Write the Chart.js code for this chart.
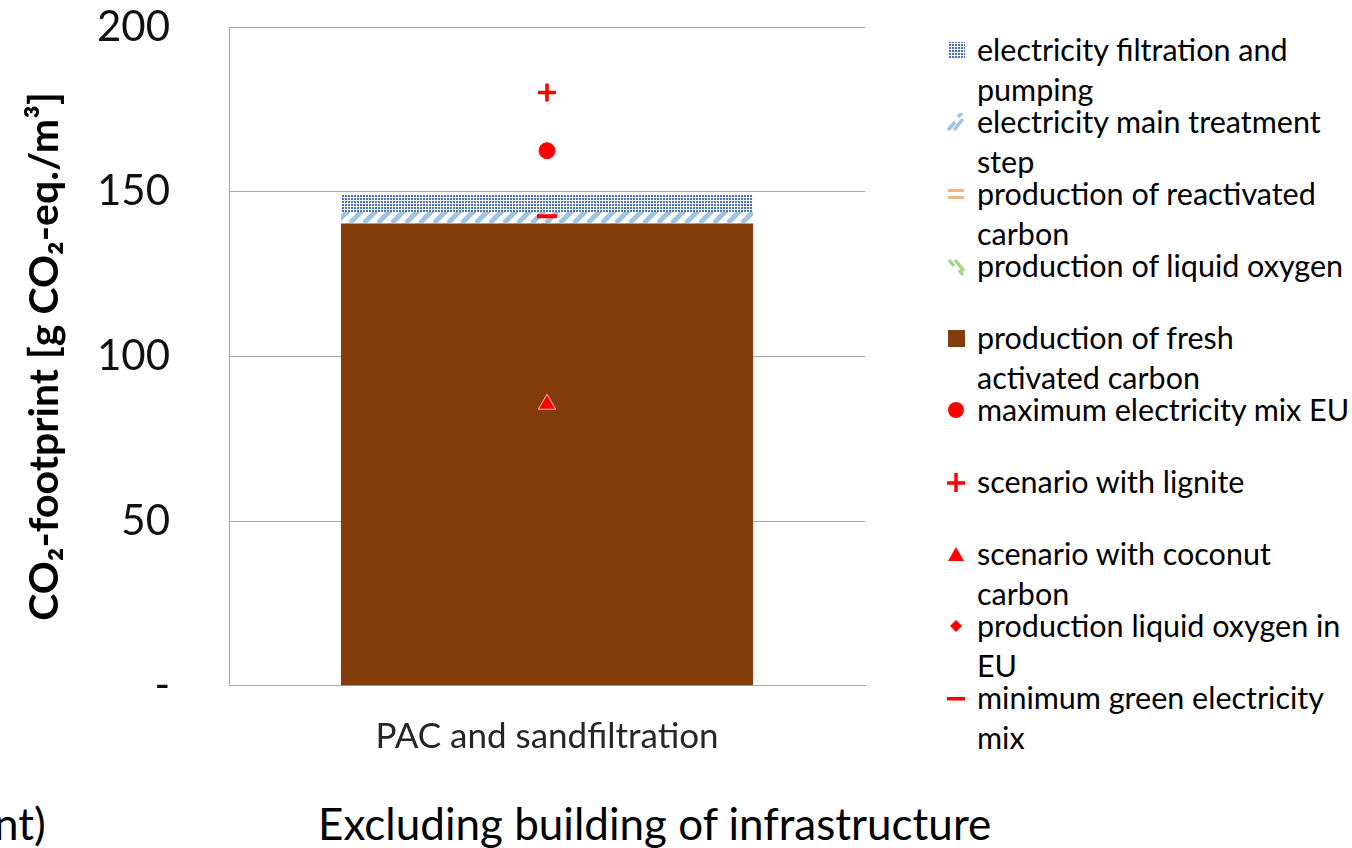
<!DOCTYPE html>
<html>
<head>
<meta charset="utf-8">
<script src="https://cdn.jsdelivr.net/npm/chart.js@4.4.0/dist/chart.umd.min.js"></script>
<style>
  body { margin:0; width:1352px; height:848px; background:#fff; overflow:hidden; position:relative; font-family:Lato, "Open Sans", sans-serif; }
  #wrap { position:absolute; left:0; top:-57px; width:880px; height:827px; }
  #legend { position:absolute; left:946px; top:30px; width:406px; }
  .item { position:absolute; left:0; width:406px; }
  .item canvas { position:absolute; left:0; top:11px; }
  .item span { position:absolute; left:31px; top:-1px; font-size:30.5px; line-height:40px; color:#000; white-space:nowrap; }
  #foot { position:absolute; left:318px; top:797px; font-size:44px; color:#000; white-space:nowrap; }
  #cut { position:absolute; left:-6px; top:797px; font-size:44px; color:#000; }
</style>
</head>
<body>
<div id="wrap"><canvas id="co2_canvas"></canvas></div>
<div id="legend"></div>
<div id="cut">nt)</div>
<div id="foot">Excluding building of infrastructure</div>
<script>
// data
var categories = ['PAC and sandfiltration'];
var freshCarbon = [140.4];
var liquidOxygen = [0];
var reactivatedCarbon = [0];
var elecMainStep = [3.5];
var elecFiltration = [5.4];
var maxElecMixEU = [162.5];
var lignite = [180.2];
var coconutCarbon = [85.5];
var liquidOxygenEU = [null];
var minGreenMix = [142.6];
var yTicks = [0, 50, 100, 150, 200];

function makePattern(kind){
    var c = document.createElement('canvas');
    var g = c.getContext('2d');
    if(kind=='dots'){
        c.width=3; c.height=3;
        g.fillStyle='#ffffff'; g.fillRect(0,0,3,3);
        g.fillStyle='#4a70b5'; g.fillRect(0,0,2,2);
    } else if(kind=='hatch'){
        c.width=14; c.height=14;
        g.fillStyle='#ffffff'; g.fillRect(0,0,14,14);
        g.strokeStyle='#9dc3e6'; g.lineWidth=5;
        for(var k=-14;k<=28;k+=14){
            g.beginPath(); g.moveTo(k,14); g.lineTo(k+14,0); g.stroke();
        }
    } else if(kind=='orange'){
        c.width=6; c.height=6;
        g.fillStyle='#ffffff'; g.fillRect(0,0,6,6);
        g.fillStyle='#f4b183'; g.fillRect(0,0,6,3);
    } else if(kind=='green'){
        c.width=8; c.height=8;
        g.fillStyle='#ffffff'; g.fillRect(0,0,8,8);
        g.strokeStyle='#a9d18e'; g.lineWidth=3;
        for(var k=-8;k<=16;k+=8){
            g.beginPath(); g.moveTo(k,0); g.lineTo(k+8,8); g.stroke();
        }
    }
    return g.createPattern(c,'repeat');
}

var red = '#ff0000';
var datasets = [
    {label:'production of fresh activated carbon', data:freshCarbon, backgroundColor:'#843c0c', stack:'a', order:1},
    {label:'production of liquid oxygen', data:liquidOxygen, backgroundColor:makePattern('green'), stack:'a', order:1},
    {label:'production of reactivated carbon', data:reactivatedCarbon, backgroundColor:makePattern('orange'), stack:'a', order:1},
    {label:'electricity main treatment step', data:elecMainStep, backgroundColor:makePattern('hatch'), stack:'a', order:1},
    {label:'electricity filtration and pumping', data:elecFiltration, backgroundColor:makePattern('dots'), stack:'a', order:1},
    {type:'line', label:'maximum electricity mix EU', data:maxElecMixEU, yAxisID:'y2', showLine:false, order:0,
        pointStyle:'circle', pointRadius:8, backgroundColor:red, borderColor:red, borderWidth:1},
    {type:'line', label:'scenario with lignite', data:lignite, yAxisID:'y2', showLine:false, order:0,
        pointStyle:'cross', pointRadius:9, backgroundColor:red, borderColor:red, borderWidth:3.5},
    {type:'line', label:'scenario with coconut carbon', data:coconutCarbon, yAxisID:'y2', showLine:false, order:0,
        pointStyle:'triangle', pointRadius:10, backgroundColor:red, borderColor:'#f4b6b6', borderWidth:1},
    {type:'line', label:'production liquid oxygen in EU', data:liquidOxygenEU, yAxisID:'y2', showLine:false, order:0,
        pointStyle:'rectRot', pointRadius:8, backgroundColor:red, borderColor:red, borderWidth:1},
    {type:'line', label:'minimum green electricity mix', data:minGreenMix, yAxisID:'y2', showLine:false, order:0,
        pointStyle:'line', pointRadius:10, backgroundColor:red, borderColor:red, borderWidth:4}
];

var ctx = document.getElementById('co2_canvas');
var chart = new Chart(ctx, {
    type:'bar',
    data:{ labels:categories, datasets:datasets },
    options:{
        responsive:true,
        maintainAspectRatio:false,
        animation:false,
        layout:{ padding:{top:0, right:15, left:0, bottom:0} },
        plugins:{ legend:{display:false}, tooltip:{enabled:false} },
        datasets:{ bar:{ categoryPercentage:1, barPercentage:0.648 } },
        scales:{
            x:{
                stacked:true,
                grid:{display:false},
                border:{display:true, color:'#a6a6a6'},
                ticks:{ color:'#262626', padding:22, font:{family:'Lato', size:35} },
                afterFit:function(s){ s.height = 74; }
            },
            y:{
                stacked:true, min:0, max:200,
                afterBuildTicks:function(s){ s.ticks = yTicks.map(function(v){ return {value:v}; }); },
                grid:{ color:'#a6a6a6', drawTicks:false },
                border:{display:true, color:'#a6a6a6'},
                ticks:{
                    color:'#111', padding:59, font:{family:'Lato', size:42},
                    callback:function(v){ return v===0 ? '-' : v; }
                },
                title:{ display:true, text:'CO\u2082-footprint [g CO\u2082-eq./m\u00b3]', color:'#000',
                    font:{family:'Lato', size:41, weight:'bold'}, padding:{top:20, bottom:0} },
                afterFit:function(s){ s.width = 229; }
            },
            y2:{ display:false, min:0, max:200 }
        }
    }
});

// html legend, same order as the reference
var legendItems = [
    {text:['electricity filtration and','pumping'], ds:4},
    {text:['electricity main treatment','step'], ds:3},
    {text:['production of reactivated','carbon'], ds:2},
    {text:['production of liquid oxygen'], ds:1},
    {text:['production of fresh','activated carbon'], ds:0},
    {text:['maximum electricity mix EU'], ds:5},
    {text:['scenario with lignite'], ds:6},
    {text:['scenario with coconut','carbon'], ds:7},
    {text:['production liquid oxygen in','EU'], ds:8},
    {text:['minimum green electricity','mix'], ds:9}
];
var legend = document.getElementById('legend');
for(var i=0;i<legendItems.length;i++){
    var it = legendItems[i];
    var div = document.createElement('div');
    div.className='item';
    div.style.top = (i*72)+'px';
    var ic = document.createElement('canvas');
    ic.width=20; ic.height=20;
    var g = ic.getContext('2d');
    var ds = datasets[it.ds];
    if(it.ds==2){
        g.fillStyle='#f4b183'; g.fillRect(2,4,16,3); g.fillRect(2,11,16,3);
    } else if(it.ds==1){
        g.strokeStyle='#a9d18e'; g.lineWidth=3.5;
        g.beginPath(); g.moveTo(3,3); g.lineTo(8,9); g.stroke();
        g.beginPath(); g.moveTo(9,3); g.lineTo(18,14); g.stroke();
        g.beginPath(); g.moveTo(13,13); g.lineTo(17,18); g.stroke();
    } else if(it.ds==3){
        g.strokeStyle='#9dc3e6'; g.lineWidth=3.5;
        g.beginPath(); g.moveTo(2,17); g.lineTo(9,9); g.stroke();
        g.beginPath(); g.moveTo(8,17); g.lineTo(17,6); g.stroke();
        g.beginPath(); g.moveTo(12,4); g.lineTo(16,0); g.stroke();
    } else if(it.ds<=4){
        g.fillStyle = ds.backgroundColor; g.fillRect(2,1,17,17);
    } else {
        g.fillStyle=red; g.strokeStyle=red;
        if(ds.pointStyle=='circle'){ g.beginPath(); g.arc(10,9,8,0,Math.PI*2); g.fill(); }
        else if(ds.pointStyle=='cross'){ g.lineWidth=3.5; g.beginPath(); g.moveTo(10,0); g.lineTo(10,19); g.moveTo(1,10); g.lineTo(19,10); g.stroke(); }
        else if(ds.pointStyle=='triangle'){ g.beginPath(); g.moveTo(10,2); g.lineTo(18,16); g.lineTo(2,16); g.closePath(); g.fill(); }
        else if(ds.pointStyle=='rectRot'){ g.beginPath(); g.moveTo(10,3); g.lineTo(16,9); g.lineTo(10,15); g.lineTo(4,9); g.closePath(); g.fill(); }
        else { g.fillRect(1,8,18,3.5); }
    }
    div.appendChild(ic);
    for(var j=0;j<it.text.length;j++){
        var sp = document.createElement('span');
        sp.textContent = it.text[j];
        sp.style.top = (j*40-1)+'px';
        div.appendChild(sp);
    }
    legend.appendChild(div);
}
</script>
</body>
</html>
